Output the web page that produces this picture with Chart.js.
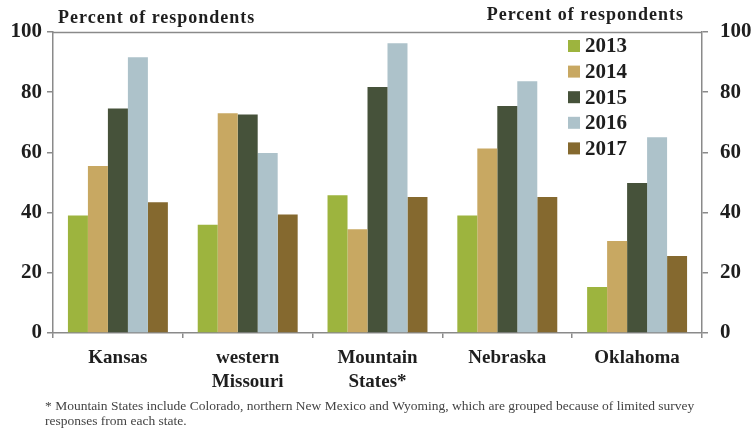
<!DOCTYPE html>
<html lang="en">
<head>
    <meta charset="UTF-8">
    <title>Percent of respondents by state, 2013-2017</title>
    <script src="https://cdn.jsdelivr.net/npm/chart.js"></script>
    <style>
        html, body { margin: 0; padding: 0; background: #fff; }
        #wrap { position: relative; width: 751px; height: 436px; }
    </style>
</head>
<body>
    <div id="wrap">
        <canvas id="chart" width="751" height="436"></canvas>
    </div>

    <script>
        // Regions and yearly survey shares (percent)
        const regions = ['Kansas', ['western', 'Missouri'], ['Mountain', 'States*'], 'Nebraska', 'Oklahoma'];
        const years = ['2013', '2014', '2015', '2016', '2017'];
        const v2013 = [39, 36, 45.8, 39, 15.3];
        const v2014 = [55.5, 73, 34.5, 61.3, 30.6];
        const v2015 = [74.6, 72.6, 81.7, 75.4, 49.8];
        const v2016 = [91.6, 59.8, 96.3, 83.6, 65];
        const v2017 = [43.4, 39.4, 45.2, 45.2, 25.6];
        const yTicks = [0, 20, 40, 60, 80, 100];

        const colors = ['#9db43e', '#c8a862', '#46523a', '#adc2ca', '#85692f'];
        const serif = "'Liberation Serif', 'DejaVu Serif', serif";
        const ink = '#1e1e1e';
        const axisGray = '#8a8a8a';

        const series = [v2013, v2014, v2015, v2016, v2017];
        const datasets = series.map((vals, i) => ({
            label: years[i],
            data: vals,
            backgroundColor: colors[i],
            borderWidth: 0,
            categoryPercentage: 0.77,
            barPercentage: 1.0
        }));

        // Titles, top frame line, legend and footnote
        const extras = {
            id: 'extras',
            afterDraw(chart) {
                const c = chart.ctx;
                const a = chart.chartArea;
                c.save();
                c.strokeStyle = axisGray;
                c.lineWidth = 1.5;
                c.beginPath();
                c.moveTo(a.left, a.top + 0.5);
                c.lineTo(a.right, a.top + 0.5);
                c.stroke();

                c.fillStyle = ink;
                c.font = 'bold 18px ' + serif;
                c.letterSpacing = '1px';
                c.textBaseline = 'middle';
                c.textAlign = 'left';
                c.fillText('Percent of respondents', 58, 18);
                c.textAlign = 'right';
                c.fillText('Percent of respondents', 684, 15);

                // legend
                c.textAlign = 'left';
                c.letterSpacing = '0px';
                c.font = 'bold 21px ' + serif;
                chart.data.datasets.forEach((ds, i) => {
                    const y = 46 + i * 25.6;
                    c.fillStyle = ds.backgroundColor;
                    c.fillRect(568, y - 6, 12, 12);
                    c.fillStyle = ink;
                    c.fillText(ds.label, 585, y + 1);
                });

                // footnote
                c.fillStyle = '#444';
                c.font = '13.5px ' + serif;
                c.fillText('* Mountain States include Colorado, northern New Mexico and Wyoming, which are grouped because of limited survey', 45, 406);
                c.fillText('responses from each state.', 45, 421);
                c.restore();
            }
        };

        const yCommon = {
            min: 0,
            max: 100,
            afterBuildTicks: s => { s.ticks = yTicks.map(v => ({ value: v })); },
            grid: { drawOnChartArea: false, tickLength: 6, color: axisGray, lineWidth: 1.5 },
            border: { color: axisGray, width: 1.5 },
            ticks: { color: ink, padding: 5, font: { family: serif, size: 21, weight: 'bold' } }
        };

        new Chart(document.getElementById('chart'), {
            type: 'bar',
            data: { labels: regions, datasets },
            options: {
                responsive: false,
                animation: false,
                layout: { padding: { top: 32, left: 0, right: 0, bottom: 0 } },
                plugins: { legend: { display: false }, tooltip: { enabled: false } },
                scales: {
                    x: {
                        afterFit: s => { s.height = 103; },
                        grid: { drawOnChartArea: false, tickLength: 5, color: axisGray, lineWidth: 1.5 },
                        border: { color: axisGray, width: 1.5 },
                        ticks: { color: ink, padding: 8, maxRotation: 0, font: { family: serif, size: 19, weight: 'bold', lineHeight: 1.27 } }
                    },
                    y: Object.assign({}, yCommon, {
                        position: 'left',
                        afterFit: s => { s.width = 53; }
                    }),
                    y2: Object.assign({}, yCommon, {
                        position: 'right',
                        afterFit: s => { s.width = 49; },
                        ticks: Object.assign({}, yCommon.ticks, { padding: 12 })
                    })
                }
            },
            plugins: [extras]
        });
    </script>
</body>
</html>
